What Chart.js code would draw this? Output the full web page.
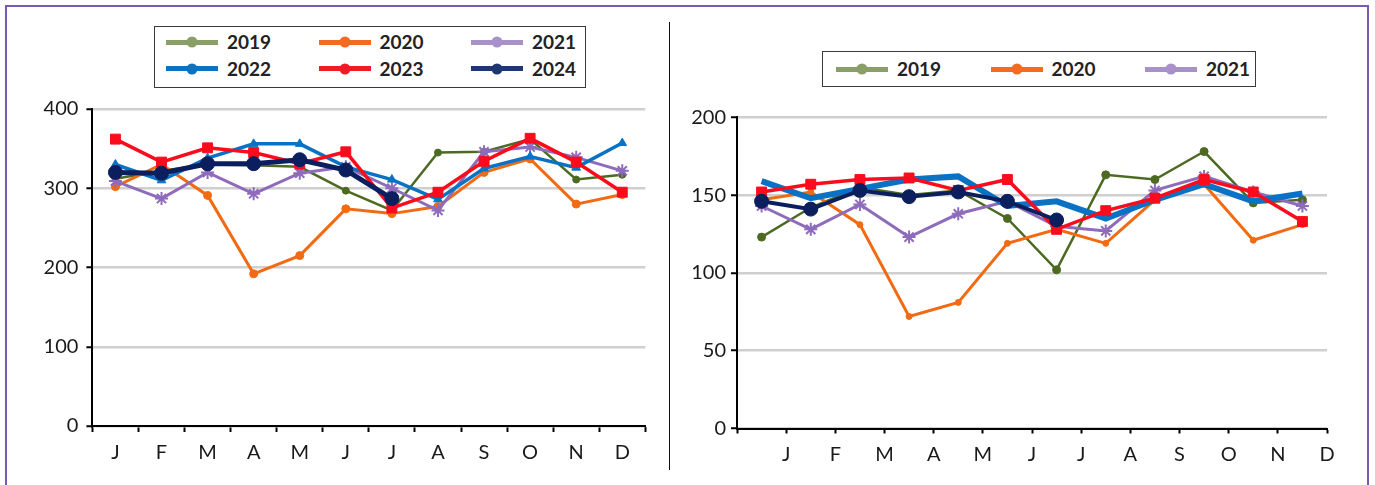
<!DOCTYPE html>
<html>
<head>
<meta charset="utf-8">
<script src="https://cdn.jsdelivr.net/npm/chart.js@4.4.1/dist/chart.umd.min.js"></script>
<style>
  html, body { margin: 0; padding: 0; background: #fff; width: 1375px; height: 485px; overflow: hidden; }
  #frame { position: absolute; left: 5px; top: 5px; width: 1364px; height: 530px; border: 2px solid #7b5ba8; box-sizing: border-box; }
  #divider { position: absolute; left: 668.5px; top: 22px; width: 1.5px; height: 448px; background: #111; }
  canvas { position: absolute; top: 0; }
  #leftChart { left: 0; }
  #rightChart { left: 670px; }
  .legend { position: absolute; border: 1.5px solid #3a3a3a; box-sizing: border-box; background: #fff;
            font: bold 19px Lato, sans-serif; color: #222; }
  .item { position: absolute; display: flex; align-items: center; height: 24px; white-space: nowrap; }
  .swatch { position: relative; width: 52px; height: 5px; }
  .swatch i { position: absolute; left: 50%; top: 50%; width: 11px; height: 11px; border-radius: 50%;
              transform: translate(-50%, -50%); }
  .item span { margin-left: 9px; line-height: 24px; }
</style>
</head>
<body>
<div id="frame"></div>
<canvas id="leftChart" width="670" height="485"></canvas>
<canvas id="rightChart" width="705" height="485"></canvas>
<div id="divider"></div>
<div id="legendLeft" class="legend" style="left:154px; top:26px; width:432px; height:62px;"></div>
<div id="legendRight" class="legend" style="left:822px; top:51px; width:434px; height:36px;"></div>

<script>
// Month initials and series names
const months = ['J', 'F', 'M', 'A', 'M', 'J', 'J', 'A', 'S', 'O', 'N', 'D'];
const years = ['2019', '2020', '2021', '2022', '2023', '2024'];

// Left panel values (scale 0-400)
const left2019 = [312, 322, 330, 329, 327, 297, 272, 345, 346, 362, 311, 317];
const left2020 = [302, 330, 291, 192, 215, 274, 268, 277, 320, 337, 280, 292];
const left2021 = [309, 287, 320, 293, 319, 327, 300, 272, 346, 352, 339, 322];
const left2022 = [330, 310, 338, 356, 356, 327, 311, 286, 325, 340, 326, 357];
const left2023 = [362, 333, 351, 345, 331, 346, 275, 295, 334, 363, 333, 295];
const left2024 = [320, 319, 331, 331, 336, 323, 287, null, null, null, null, null];

// Right panel values (scale 0-200)
const right2019 = [123, 142, 155, 150, 153, 135, 102, 163, 160, 178, 145, 147];
const right2020 = [147, 152, 131, 72, 81, 119, 128, 119, 147, 157, 121, 131];
const right2021 = [143, 128, 144, 123, 138, 146, 130, 127, 153, 162, 152, 143];
const right2022 = [159, 148, 154, 160, 162, 143, 146, 135, 147, 157, 146, 151];
const right2023 = [152, 157, 160, 161, 153, 160, 128, 140, 148, 160, 152, 133];
const right2024 = [146, 141, 153, 149, 152, 146, 134, null, null, null, null, null];

// Axis tick values
const leftYTicks = [0, 100, 200, 300, 400];
const rightYTicks = [0, 50, 100, 150, 200];
// The right panel prints month letters on the tick marks that close each month
const rightXLabels = [''].concat(months);

// Series styles
const lineColors = ['#4d6a22', '#f26a12', '#8e6bbb', '#0a72c4', '#fa0c1c', '#0b1f5e'];
const legendColors = ['#8a9f68', '#f26b21', '#a890c8', '#0a72c2', '#ee1c24', '#1f3771'];
const leftStyle = [
  { w: 2.5, ps: 'circle',   r: 3.5 },
  { w: 3,   ps: 'circle',   r: 4 },
  { w: 3,   ps: 'star',     r: 6.5 },
  { w: 3.5, ps: 'triangle', r: 5 },
  { w: 3.5, ps: 'rect',     r: 7 },
  { w: 5,   ps: 'circle',   r: 7 }
];
const rightStyle = [
  { w: 2.5, ps: 'circle', r: 4 },
  { w: 3,   ps: 'circle', r: 3 },
  { w: 3,   ps: 'star',   r: 6.5 },
  { w: 6,   ps: 'circle', r: 0 },
  { w: 3.5, ps: 'rect',   r: 7 },
  { w: 4,   ps: 'circle', r: 7 }
];

const tickFont = { family: 'Lato, sans-serif', size: 20 };
const tickColor = '#1a1a1a';

function buildDatasets(seriesList, styles) {
  return seriesList.map((data, i) => ({
    label: years[i],
    data: data,
    xAxisID: 'x',
    borderColor: lineColors[i],
    backgroundColor: lineColors[i],
    borderWidth: styles[i].w,
    pointStyle: styles[i].ps,
    pointRadius: styles[i].r,
    pointBorderColor: lineColors[i],
    pointBackgroundColor: lineColors[i],
    pointBorderWidth: styles[i].ps === 'star' ? 2 : 1,
    tension: 0,
    spanGaps: false,
    clip: false,
    order: 6 - i
  }));
}

function yScale(ticks, width, pad) {
  return {
    min: ticks[0],
    max: ticks[ticks.length - 1],
    afterBuildTicks: s => { s.ticks = ticks.map(v => ({ value: v })); },
    afterFit: s => { s.width = width; },
    grid: { color: '#cfcfcf', lineWidth: 2.5, tickLength: 6, tickColor: '#000', tickWidth: 2 },
    border: { color: '#000', width: 2 },
    ticks: { font: tickFont, color: tickColor, padding: pad }
  };
}

function buildLegend(el, count, colStep, x0, rowTop, rowStep) {
  for (let i = 0; i < count; i++) {
    const col = i % 3, row = Math.floor(i / 3);
    const item = document.createElement('div');
    item.className = 'item';
    item.style.left = (x0 + col * colStep) + 'px';
    item.style.top = (rowTop + row * rowStep) + 'px';
    const sw = document.createElement('div');
    sw.className = 'swatch';
    sw.style.background = legendColors[i];
    const dot = document.createElement('i');
    dot.style.background = legendColors[i];
    sw.appendChild(dot);
    const txt = document.createElement('span');
    txt.textContent = years[i];
    item.appendChild(sw);
    item.appendChild(txt);
    el.appendChild(item);
  }
}

function draw() {
  new Chart(document.getElementById('leftChart'), {
    type: 'line',
    data: {
      labels: months,
      datasets: buildDatasets([left2019, left2020, left2021, left2022, left2023, left2024], leftStyle)
    },
    options: {
      responsive: false,
      animation: false,
      events: [],
      layout: { padding: { left: 0, right: 24.7, top: 109, bottom: 0 } },
      plugins: { legend: { display: false }, tooltip: { enabled: false } },
      scales: {
        x: {
          type: 'category',
          labels: months,
          offset: true,
          afterFit: s => { s.height = 59; },
          grid: { offset: true, drawOnChartArea: false, tickLength: 6, tickColor: '#000', tickWidth: 2 },
          border: { color: '#000', width: 2 },
          ticks: { font: tickFont, color: tickColor, padding: 9, autoSkip: false, maxRotation: 0 }
        },
        y: yScale(leftYTicks, 92.4, 8)
      }
    }
  });

  new Chart(document.getElementById('rightChart'), {
    type: 'line',
    data: {
      labels: months,
      datasets: buildDatasets([right2019, right2020, right2021, right2022, right2023, right2024], rightStyle)
    },
    options: {
      responsive: false,
      animation: false,
      events: [],
      layout: { padding: { left: 0, right: 48, top: 117.3, bottom: 0 } },
      plugins: { legend: { display: false }, tooltip: { enabled: false } },
      scales: {
        x: {
          type: 'category',
          labels: months,
          offset: true,
          display: false
        },
        xm: {
          type: 'category',
          position: 'bottom',
          labels: rightXLabels,
          offset: false,
          afterFit: s => { s.height = 56.5; },
          grid: { offset: false, drawOnChartArea: false, tickLength: 5, tickColor: '#000', tickWidth: 2 },
          border: { color: '#000', width: 2 },
          ticks: { font: tickFont, color: tickColor, padding: 9, autoSkip: false, maxRotation: 0 }
        },
        y: yScale(rightYTicks, 67, 5)
      }
    }
  });

  buildLegend(document.getElementById('legendLeft'), 6, 152.5, 11, 3, 26.7);
  buildLegend(document.getElementById('legendRight'), 3, 154.5, 13, 5, 0);
}

Promise.all([
  document.fonts.load('20px Lato'),
  document.fonts.load('bold 19px Lato')
]).then(draw, draw);
</script>
</body>
</html>
